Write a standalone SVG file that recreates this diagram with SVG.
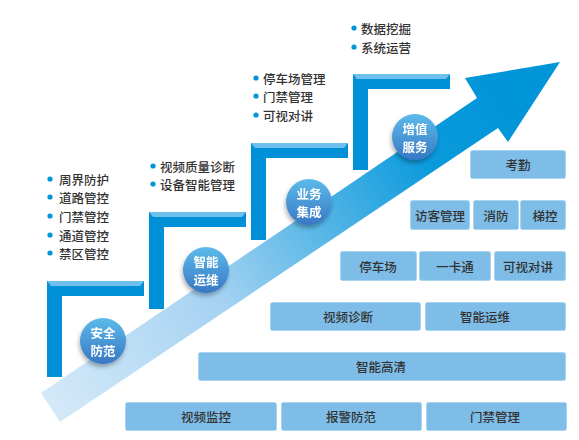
<svg xmlns="http://www.w3.org/2000/svg" width="579" height="440" viewBox="0 0 579 440">
<defs>
<linearGradient id="arrowGrad" gradientUnits="userSpaceOnUse" x1="50" y1="408" x2="520" y2="95">
<stop offset="0" stop-color="#d4e9f8"/>
<stop offset="0.35" stop-color="#a6d3f2"/>
<stop offset="0.6" stop-color="#4fb3e5"/>
<stop offset="0.8" stop-color="#0a9adc"/>
<stop offset="1" stop-color="#0095d8"/>
</linearGradient>
<linearGradient id="ballGrad" x1="0" y1="0" x2="0" y2="1">
<stop offset="0" stop-color="#5cbbea"/>
<stop offset="1" stop-color="#3877c4"/>
</linearGradient>
<filter id="shadow" x="-30%" y="-30%" width="160%" height="170%">
<feDropShadow dx="-1" dy="3" stdDeviation="2" flood-color="#000" flood-opacity="0.3"/>
</filter>
<style>
.bar{fill:#0090d8}
.bevel{fill:#6fc0ec}
.box{fill:#7dbde8;stroke:#a8d3f1;stroke-width:1}
.bt{font-family:"Noto Sans CJK SC","Liberation Sans",sans-serif;font-size:12.5px;font-weight:500;fill:#333;text-anchor:middle;dominant-baseline:central}
.lt{font-family:"Noto Sans CJK SC","Liberation Sans",sans-serif;font-size:12.5px;font-weight:500;fill:#333;dominant-baseline:central}
.dot{fill:#0095d8}
.ct{font-family:"Noto Sans CJK SC","Liberation Sans",sans-serif;font-size:12.5px;fill:#fff;text-anchor:middle;dominant-baseline:central;font-weight:bold}
</style>
</defs>
<rect width="579" height="440" fill="#fff"/>

<g id="step1">
<rect class="bar" x="47" y="281" width="97" height="15"/>
<rect class="bar" x="47" y="281" width="15" height="96"/>
<polygon class="bevel" points="47,281 144,281 140,286 51,286"/>
</g>
<g id="step2">
<rect class="bar" x="149" y="212" width="97" height="15"/>
<rect class="bar" x="149" y="212" width="15" height="97"/>
<polygon class="bevel" points="149,212 246,212 242,217 153,217"/>
</g>
<g id="step3">
<rect class="bar" x="251" y="143" width="97" height="15"/>
<rect class="bar" x="251" y="143" width="15" height="97"/>
<polygon class="bevel" points="251,143 348,143 344,148 255,148"/>
</g>
<g id="step4">
<rect class="bar" x="353" y="74" width="97" height="15"/>
<rect class="bar" x="353" y="74" width="15" height="96"/>
<polygon class="bevel" points="353,74 450,74 446,79 357,79"/>
</g>

<g id="connectors">
<polygon id="arrow" fill="url(#arrowGrad)" points="41,393 60,422 498,128 508,142 560,62 465,78 477,98"/>
</g>

<g id="list1">
<circle class="dot" cx="50" cy="179" r="2.6"/><text class="lt" x="59" y="179">周界防护</text>
<circle class="dot" cx="50" cy="197" r="2.6"/><text class="lt" x="59" y="197">道路管控</text>
<circle class="dot" cx="50" cy="216" r="2.6"/><text class="lt" x="59" y="216">门禁管控</text>
<circle class="dot" cx="50" cy="235" r="2.6"/><text class="lt" x="59" y="235">通道管控</text>
<circle class="dot" cx="50" cy="253" r="2.6"/><text class="lt" x="59" y="253">禁区管控</text>
</g>
<g id="list2">
<circle class="dot" cx="153" cy="166" r="2.6"/><text class="lt" x="160" y="166">视频质量诊断</text>
<circle class="dot" cx="153" cy="184" r="2.6"/><text class="lt" x="160" y="184">设备智能管理</text>
</g>
<g id="list3">
<circle class="dot" cx="256" cy="78" r="2.6"/><text class="lt" x="263" y="78">停车场管理</text>
<circle class="dot" cx="256" cy="96" r="2.6"/><text class="lt" x="263" y="96">门禁管理</text>
<circle class="dot" cx="256" cy="115" r="2.6"/><text class="lt" x="263" y="115">可视对讲</text>
</g>
<g id="list4">
<circle class="dot" cx="354" cy="28" r="2.6"/><text class="lt" x="361" y="28">数据挖掘</text>
<circle class="dot" cx="354" cy="47" r="2.6"/><text class="lt" x="361" y="47">系统运营</text>
</g>

<g id="ball1" filter="url(#shadow)">
<circle cx="103" cy="341" r="23" fill="url(#ballGrad)"/>
<text class="ct" x="103" y="332.5">安全</text><text class="ct" x="103" y="350">防范</text>
</g>
<g id="ball2" filter="url(#shadow)">
<circle cx="206" cy="270" r="23" fill="url(#ballGrad)"/>
<text class="ct" x="206" y="261.5">智能</text><text class="ct" x="206" y="279">运维</text>
</g>
<g id="ball3" filter="url(#shadow)">
<circle cx="309" cy="202" r="23" fill="url(#ballGrad)"/>
<text class="ct" x="309" y="193.5">业务</text><text class="ct" x="309" y="211">集成</text>
</g>
<g id="ball4" filter="url(#shadow)">
<circle cx="415" cy="137" r="23" fill="url(#ballGrad)"/>
<text class="ct" x="415" y="128.5">增值</text><text class="ct" x="415" y="146">服务</text>
</g>

<g id="box-kaoqin"><rect class="box" x="470.5" y="150.5" width="95" height="28" rx="2"/><text class="bt" x="518" y="164.5">考勤</text></g>
<g id="box-fangke"><rect class="box" x="410.5" y="200.5" width="59" height="29" rx="2"/><text class="bt" x="440" y="215">访客管理</text></g>
<g id="box-xiaofang"><rect class="box" x="473.5" y="200.5" width="45" height="29" rx="2"/><text class="bt" x="496" y="215">消防</text></g>
<g id="box-tikong"><rect class="box" x="520.5" y="200.5" width="45" height="29" rx="2"/><text class="bt" x="545" y="215">梯控</text></g>
<g id="box-tingche"><rect class="box" x="340.5" y="251.5" width="76" height="29" rx="2"/><text class="bt" x="378" y="266">停车场</text></g>
<g id="box-yikatong"><rect class="box" x="419.5" y="251.5" width="71" height="29" rx="2"/><text class="bt" x="455" y="266">一卡通</text></g>
<g id="box-keshi"><rect class="box" x="494.5" y="251.5" width="71" height="29" rx="2"/><text class="bt" x="528" y="266">可视对讲</text></g>
<g id="box-zhenduan"><rect class="box" x="270.5" y="302.5" width="150" height="28" rx="2"/><text class="bt" x="348" y="316.5">视频诊断</text></g>
<g id="box-yunwei"><rect class="box" x="425.5" y="302.5" width="140" height="28" rx="2"/><text class="bt" x="485" y="316.5">智能运维</text></g>
<g id="box-gaoqing"><rect class="box" x="198.5" y="352.5" width="367" height="28" rx="2"/><text class="bt" x="381" y="366.5">智能高清</text></g>
<g id="box-jiankong"><rect class="box" x="125.5" y="402.5" width="151" height="28" rx="2"/><text class="bt" x="206" y="416.5">视频监控</text></g>
<g id="box-baojing"><rect class="box" x="281.5" y="402.5" width="140" height="28" rx="2"/><text class="bt" x="351" y="416.5">报警防范</text></g>
<g id="box-menjin"><rect class="box" x="426.5" y="402.5" width="140" height="28" rx="2"/><text class="bt" x="495" y="416.5">门禁管理</text></g>
</svg>
